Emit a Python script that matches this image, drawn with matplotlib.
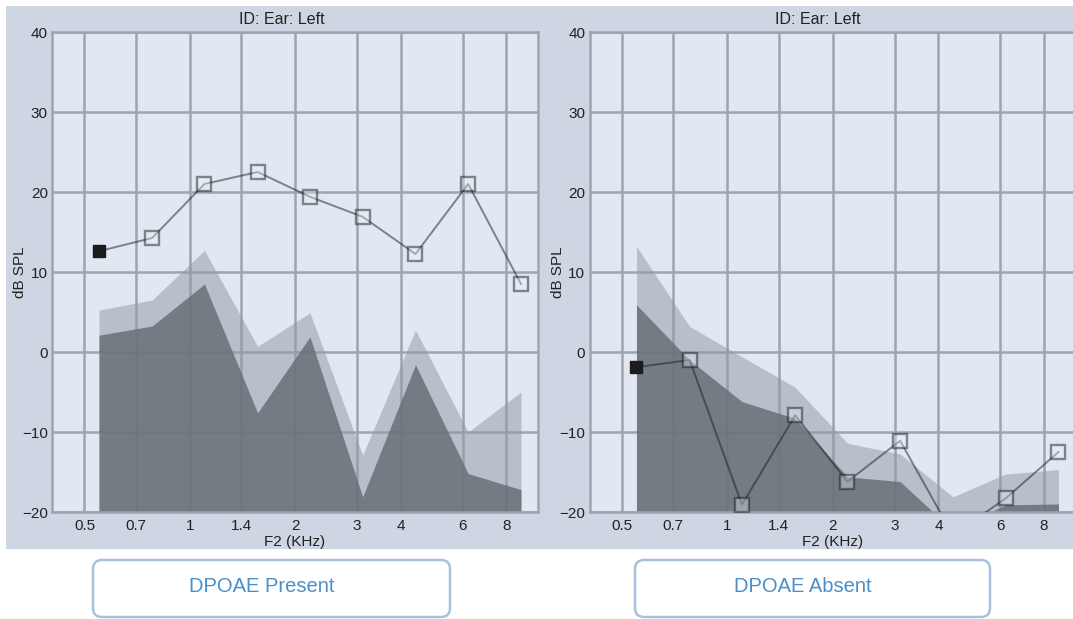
import matplotlib
matplotlib.use("Agg")
import matplotlib.pyplot as plt
from matplotlib.patches import Rectangle, FancyBboxPatch

plt.rcParams['font.family'] = ['Liberation Sans', 'DejaVu Sans']

# F2 test frequencies (kHz), half-octave steps
freqs = [0.55, 0.78, 1.1, 1.56, 2.2, 3.11, 4.4, 6.22, 8.8]

# ear with emissions present
present_dp = [12.6, 14.25, 21.0, 22.5, 19.4, 16.9, 12.25, 21.0, 8.5]
present_nf2sd = [5.25, 6.5, 12.7, 0.7, 4.9, -12.9, 2.75, -10.0, -5.0]
present_nf = [2.1, 3.25, 8.5, -7.6, 1.9, -18.1, -1.6, -15.2, -17.2]

# ear with emissions absent
absent_dp = [-1.9, -1.0, -19.1, -7.9, -16.2, -11.1, -22.9, -18.3, -12.5]
absent_nf2sd = [13.2, 3.2, -0.6, -4.4, -11.4, -12.75, -18.1, -15.25, -14.7]
absent_nf = [5.9, -1.0, -6.2, -8.3, -15.6, -16.2, -22.3, -19.1, -19.0]

xticks = [0.5, 0.7, 1, 1.4, 2, 3, 4, 6, 8]
xticklabels = ['0.5', '0.7', '1', '1.4', '2', '3', '4', '6', '8']
yticks = [-20, -10, 0, 10, 20, 30, 40]

panel_titles = ['ID: Ear: Left', 'ID: Ear: Left']
box_labels = ['DPOAE Present', 'DPOAE Absent']

W, H = 1073, 619
PLOT_BG = '#e2e8f2'
PANEL_BG = '#cdd6e2'
GRID = '#9ca5b1'
LINE = (0.1, 0.11, 0.13, 0.5)   # translucent so it stays visible over the fills
TEXT = '#222222'


def px_rect(x0, y0, x1, y1):
    return [x0 / W, 1 - y1 / H, (x1 - x0) / W, (y1 - y0) / H]


fig = plt.figure(figsize=(W / 100, H / 100), dpi=100)

# background layer in pixel units
bg = fig.add_axes([0, 0, 1, 1], zorder=0)
bg.set_xlim(0, W)
bg.set_ylim(H, 0)
bg.axis('off')
bg.add_patch(Rectangle((6, 6), W - 6, 543, fc=PANEL_BG, ec='none'))

box_x = [(93, 450), (635, 990)]
for (bx0, bx1), lab in zip(box_x, box_labels):
    bg.add_patch(FancyBboxPatch((bx0, 560), bx1 - bx0, 57,
                                boxstyle='round,pad=0,rounding_size=9',
                                fc='white', ec='#a9c1dc', lw=1.8))
    bg.text((bx0 + bx1) / 2 - 10, 586, lab, ha='center', va='center',
            fontsize=14.5, color='#4a8fc9')


def draw_panel(x_left, dp, nf2sd, nf, title, title_x):
    ax = fig.add_axes(px_rect(x_left, 32, x_left + 486, 512), zorder=1)
    ax.set_facecolor(PLOT_BG)
    ax.set_xscale('log')
    ax.set_xlim(0.404, 9.84)
    ax.set_ylim(-20, 40)
    ax.minorticks_off()

    ax.set_axisbelow(True)
    ax.grid(True, color=GRID, lw=1.8)
    for s in ax.spines.values():
        s.set_color(GRID)
        s.set_linewidth(1.8)

    ax.fill_between(freqs, -30, nf2sd, color='#8f98a4', alpha=0.5, lw=0)
    ax.fill_between(freqs, -30, nf, color='#6a6f77', alpha=0.85, lw=0)

    ax.plot(freqs, dp, color=LINE, lw=1.4, zorder=3)
    ax.plot(freqs[1:], dp[1:], ls='none', marker='s', ms=10,
            mfc=(0.93, 0.95, 0.98, 0.35), mec=LINE, mew=1.7, zorder=4)
    ax.plot(freqs[:1], dp[:1], ls='none', marker='s', ms=9,
            mfc='#1c1c1e', mec='#1c1c1e', zorder=5)

    ax.set_xticks(xticks)
    ax.set_xticklabels(xticklabels)
    ax.set_yticks(yticks)
    ax.tick_params(length=0, labelsize=11, colors=TEXT)
    ax.tick_params(axis='x', pad=5)
    ax.tick_params(axis='y', pad=3)
    ax.set_xlabel('F2 (KHz)', fontsize=11, color=TEXT, labelpad=1.5)

    fig.text((x_left - 32) / W, 1 - 272 / H, 'dB SPL', rotation=90,
             ha='center', va='center', fontsize=11, color=TEXT)
    fig.text(title_x / W, 1 - 19 / H, title, ha='center', va='center',
             fontsize=11.5, color=TEXT)
    return ax


draw_panel(52, present_dp, present_nf2sd, present_nf, panel_titles[0], 282)
draw_panel(589.5, absent_dp, absent_nf2sd, absent_nf, panel_titles[1], 818)

fig.savefig('out.png', dpi=100)
